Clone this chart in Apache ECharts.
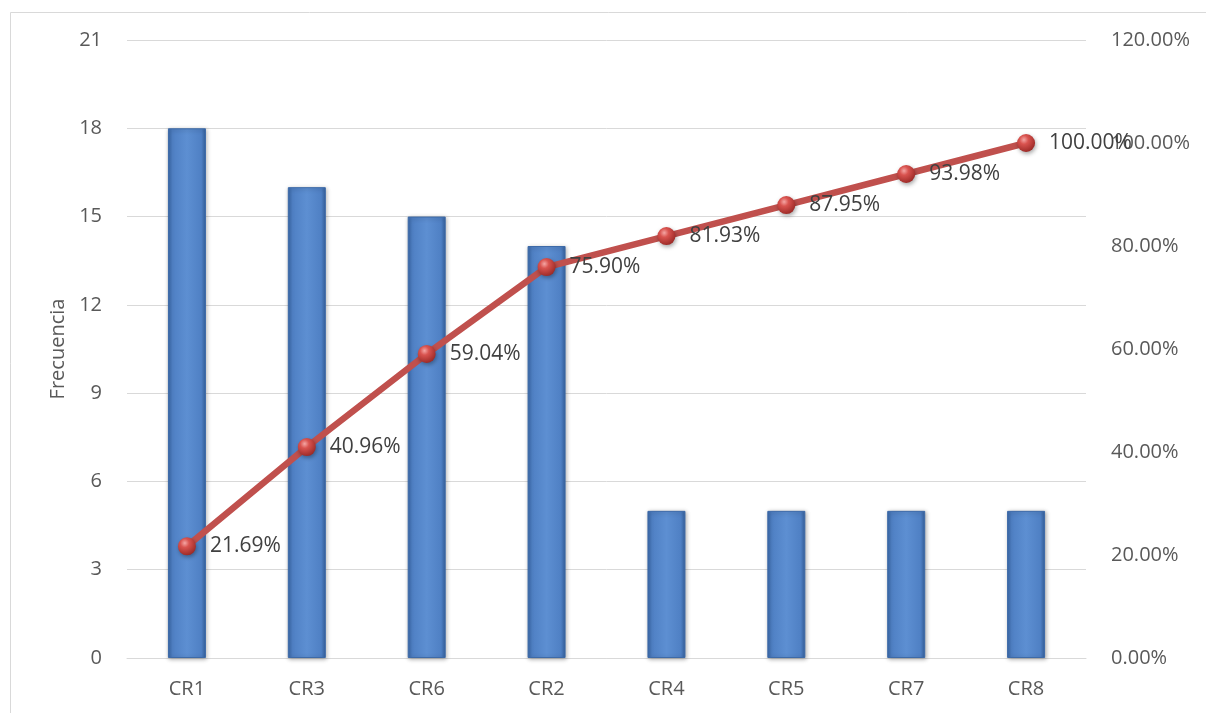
<!DOCTYPE html>
<html>
<head>
<meta charset="utf-8">
<script src="https://cdn.jsdelivr.net/npm/echarts@6/dist/echarts.min.js"></script>
<style>
  html, body { margin: 0; padding: 0; background: #fff; }
  #chart { width: 1206px; height: 713px; }
</style>
</head>
<body>
<div id="chart"></div>
<script>
// Pareto data: frequency per cause and cumulative percentage
const categories = ['CR1', 'CR3', 'CR6', 'CR2', 'CR4', 'CR5', 'CR7', 'CR8'];
const frequency = [18, 16, 15, 14, 5, 5, 5, 5];
const cumulativePct = [21.69, 40.96, 59.04, 75.90, 81.93, 87.95, 93.98, 100.00];

const FONT = '"Open Sans", "Noto Sans", sans-serif';
const TEXT = '#595959';

const chart = echarts.init(document.getElementById('chart'));

chart.setOption({
  backgroundColor: '#ffffff',
  animation: false,
  graphic: [{
    type: 'rect',
    left: 8, top: 10,
    shape: { width: 1210, height: 720 },
    style: { fill: 'none', stroke: '#d9d9d9', lineWidth: 1 },
    silent: true, z: -1
  }],
  grid: { left: 127, right: 120, top: 40, bottom: 55 },
  xAxis: {
    type: 'category',
    data: categories,
    axisTick: { show: false },
    axisLine: { lineStyle: { color: '#d9d9d9', width: 1 } },
    axisLabel: { color: TEXT, fontFamily: FONT, fontSize: 20, margin: 21 }
  },
  yAxis: [{
    type: 'value',
    min: 0, max: 21, interval: 3,
    name: 'Frecuencia',
    nameLocation: 'middle',
    nameGap: 58,
    nameTextStyle: { color: TEXT, fontFamily: FONT, fontSize: 20 },
    axisLine: { show: false },
    axisTick: { show: false },
    axisLabel: { color: TEXT, fontFamily: FONT, fontSize: 20, margin: 25 },
    splitLine: { lineStyle: { color: '#d9d9d9', width: 1 } }
  }, {
    type: 'value',
    min: 0, max: 1.2, interval: 0.2,
    position: 'right',
    axisLine: { show: false },
    axisTick: { show: false },
    splitLine: { show: false },
    axisLabel: {
      color: TEXT, fontFamily: FONT, fontSize: 20, margin: 25,
      formatter: v => (v * 100).toFixed(2) + '%'
    }
  }],
  series: [{
    name: 'Frecuencia',
    type: 'bar',
    yAxisIndex: 0,
    data: frequency,
    barWidth: 38,
    itemStyle: {
      color: new echarts.graphic.LinearGradient(0, 0, 1, 0, [
        { offset: 0, color: '#3a68a8' },
        { offset: 0.12, color: '#4f80c4' },
        { offset: 0.5, color: '#5d8fd2' },
        { offset: 0.88, color: '#4f80c4' },
        { offset: 1, color: '#35609c' }
      ]),
      borderColor: '#3d6aa8',
      borderWidth: 1,
      shadowColor: 'rgba(0,0,0,0.3)',
      shadowBlur: 4,
      shadowOffsetX: 1,
      shadowOffsetY: 1
    }
  }, {
    name: 'Porcentaje acumulado',
    type: 'line',
    yAxisIndex: 1,
    data: cumulativePct.map(v => v / 100),
    symbol: 'circle',
    symbolSize: 18,
    lineStyle: { color: '#c0504d', width: 6.5 },
    itemStyle: {
      color: new echarts.graphic.RadialGradient(0.38, 0.32, 0.7, [
        { offset: 0, color: '#f4a6a4' },
        { offset: 0.35, color: '#d9534f' },
        { offset: 1, color: '#9c2a27' }
      ]),
      shadowColor: 'rgba(0,0,0,0.35)',
      shadowBlur: 4,
      shadowOffsetX: 1,
      shadowOffsetY: 2
    },
    label: {
      show: true,
      position: 'right',
      distance: 14,
      color: '#404040',
      fontFamily: FONT,
      fontSize: 21,
      formatter: p => cumulativePct[p.dataIndex].toFixed(2) + '%'
    },
    z: 5
  }]
});
</script>
</body>
</html>
